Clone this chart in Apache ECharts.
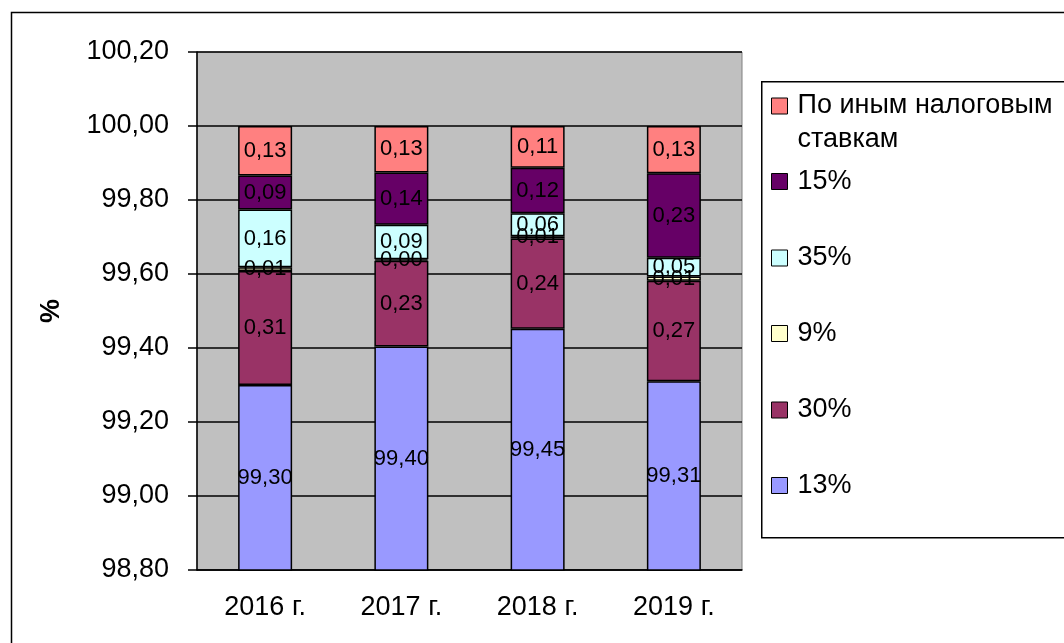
<!DOCTYPE html>
<html>
<head>
<meta charset="utf-8">
<script src="https://cdn.jsdelivr.net/npm/echarts@6/dist/echarts.min.js"></script>
<style>
  html, body { margin: 0; padding: 0; background: #fff; }
  #chart { width: 1064px; height: 643px; }
</style>
</head>
<body>
<div id="chart"></div>
<script>
const years = ['2016 г.', '2017 г.', '2018 г.', '2019 г.'];

// series in stacking order (bottom to top); labels show 2 decimals
const rate13 = [99.300, 99.404, 99.452, 99.310];
const rate30 = [0.308, 0.232, 0.244, 0.272];
const rate9 = [0.010, 0.004, 0.006, 0.011];
const rate35 = [0.156, 0.093, 0.062, 0.051];
const rate15 = [0.092, 0.141, 0.123, 0.228];
const rateOther = [0.134, 0.126, 0.113, 0.128];

const seriesNames = ['13%', '30%', '9%', '35%', '15%', 'По иным налоговым ставкам'];
const seriesColors = ['#9999FF', '#993366', '#FFFFCC', '#CCFFFF', '#660066', '#FF8080'];
const seriesData = [rate13, rate30, rate9, rate35, rate15, rateOther];

const yTicks = { min: 98.8, max: 100.2, step: 0.2 };

const font = "'Liberation Sans', Arial, sans-serif";
const fmt = (v) => Number(v).toFixed(2).replace('.', ',');

const chart = echarts.init(document.getElementById('chart'));

// legend: one block per item, top item first (reverse of stacking)
const legendCenters = [106, 181.5, 258, 333.5, 410, 485.5];
const legends = seriesNames.slice().reverse().map((name, i) => {
  const multi = i === 0;
  return {
    data: [name],
    left: 771,
    top: multi ? legendCenters[i] - 51 : legendCenters[i] - 15,
    padding: 0,
    icon: 'rect',
    itemWidth: 16,
    itemHeight: 16,
    selectedMode: false,
    itemStyle: { borderColor: '#000', borderWidth: 1 },
    // leading blank line keeps the first text line level with the icon
    formatter: multi ? () => '\nПо иным налоговым\nставкам' : undefined,
    textStyle: {
      fontFamily: font,
      fontSize: 27,
      color: '#000',
      lineHeight: multi ? 34 : 30,
      padding: [0, 0, 0, 5],
    },
  };
});

const option = {
  animation: false,
  textStyle: { fontFamily: font },
  graphic: [
    {
      type: 'rect',
      left: 9, top: 10,
      shape: { width: 1100, height: 700 },
      style: { fill: 'none', stroke: '#000', lineWidth: 1.5 },
      silent: true,
    },
    {
      type: 'rect',
      left: 761, top: 81,
      shape: { width: 400, height: 456 },
      style: { fill: '#fff', stroke: '#000', lineWidth: 1.5 },
      silent: true,
      z: -1,
    },
  ],
  legend: legends,
  grid: {
    left: 197,
    right: 322,
    top: 52,
    bottom: 73,
    show: true,
    backgroundColor: '#C0C0C0',
    borderColor: '#808080',
    borderWidth: 1,
  },
  xAxis: {
    type: 'category',
    data: years,
    axisLine: { lineStyle: { color: '#000', width: 1.5 } },
    axisTick: { length: 8, lineStyle: { color: '#000', width: 1.5 } },
    axisLabel: { color: '#000', fontSize: 27, margin: 24 },
  },
  yAxis: {
    type: 'value',
    min: yTicks.min,
    max: yTicks.max,
    interval: yTicks.step,
    name: '%',
    nameLocation: 'middle',
    nameRotate: 90,
    nameGap: 132,
    nameTextStyle: { color: '#000', fontSize: 27, fontWeight: 'bold' },
    axisLine: { show: true, lineStyle: { color: '#000', width: 1.5 } },
    axisTick: { show: true, length: 9, lineStyle: { color: '#000', width: 1.5 } },
    axisLabel: { color: '#000', fontSize: 27, margin: 28, formatter: fmt },
    splitLine: { lineStyle: { color: '#000', width: 1.5 } },
  },
  series: seriesNames.map((name, i) => ({
    name: name,
    type: 'bar',
    stack: 'total',
    barWidth: 54,
    data: seriesData[i],
    itemStyle: { color: seriesColors[i], borderColor: '#000', borderWidth: 1.5 },
    label: {
      show: true,
      position: 'inside',
      color: '#000',
      fontSize: 22,
      fontFamily: font,
      formatter: (p) => fmt(p.value),
    },
  })),
};

chart.setOption(option);
</script>
</body>
</html>
